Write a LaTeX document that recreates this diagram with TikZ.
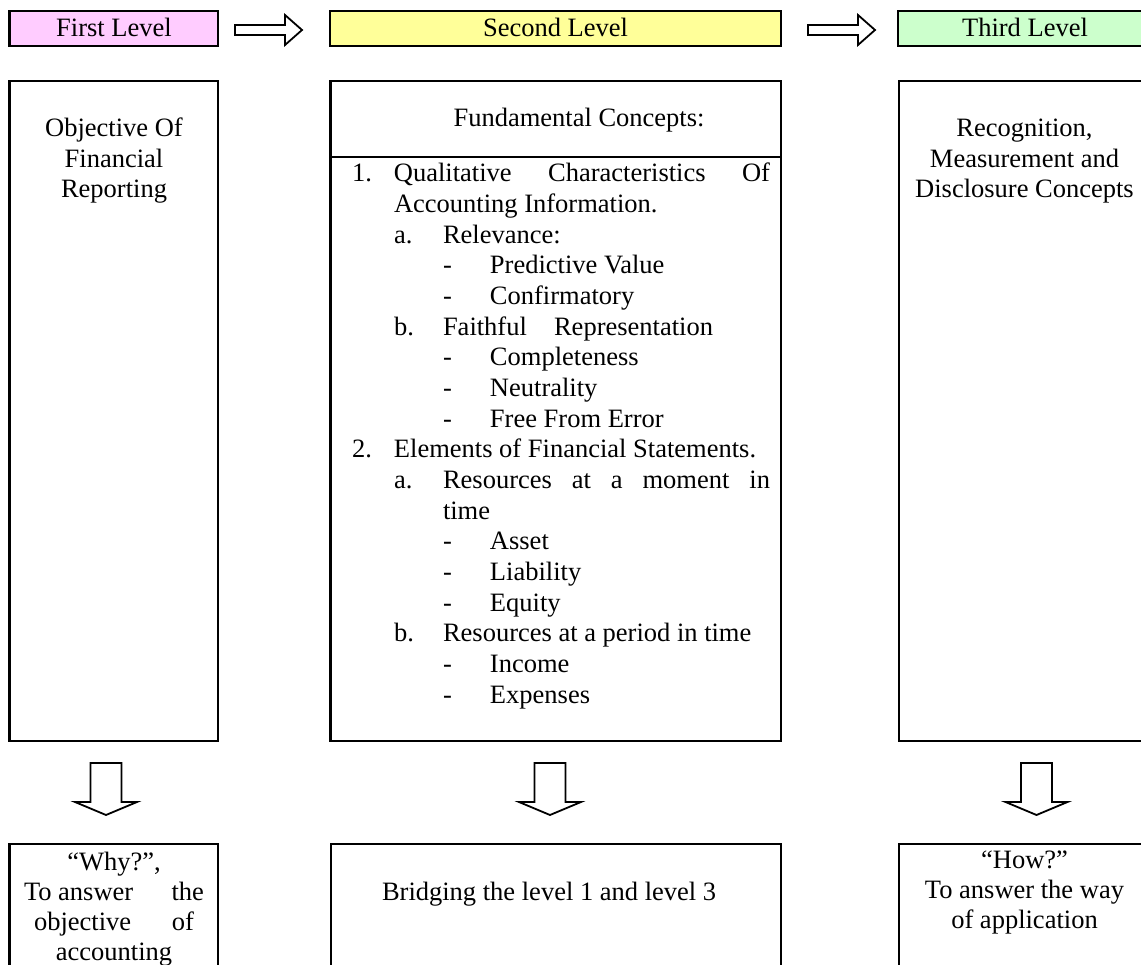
\documentclass[tikz,border=0pt]{standalone}
\usepackage{fontspec}
\setmainfont{Liberation Serif}
\definecolor{pinkfill}{HTML}{FFCCFF}
\definecolor{yellowfill}{HTML}{FFFF99}
\definecolor{greenfill}{HTML}{CCFFCC}
\newcommand\lvlA[2]{\makebox[42pt][l]{#1}#2\par}
\newcommand\lvlB[2]{\hspace*{42pt}\makebox[49pt][l]{#1}#2\par}
\newcommand\lvlC[1]{\hspace*{91pt}\makebox[47pt][l]{-}#1\par}
\tikzset{
  box/.style={draw=black, line width=2.5pt, rectangle, inner sep=0pt, outer sep=0pt, anchor=north west},
  txt/.style={inner sep=0pt, outer sep=0pt, font=\fontsize{26.5}{30.2}\selectfont},
  listtxt/.style={inner sep=0pt, outer sep=0pt, font=\fontsize{26.5}{30.65}\selectfont},
  arrowline/.style={draw=black, line width=1.8pt, fill=white, line join=miter},
  rarrow/.pic={\draw[arrowline] (0,-5) -- (50,-5) -- (50,-15) -- (67,0) -- (50,15) -- (50,5) -- (0,5) -- cycle;},
  darrow/.pic={\draw[arrowline] (-15.5,0) -- (15.5,0) -- (15.5,39) -- (31,39) -- (0,52) -- (-31,39) -- (-15.5,39) -- cycle;}
}
\begin{document}
\begin{tikzpicture}[x=1pt,y=-1pt]
\useasboundingbox (0,0) rectangle (1141,965);
\clip (0,0) rectangle (1141,965);
% level headers
\node[box, fill=pinkfill, minimum width=208.5pt, minimum height=35pt] (l1) at (9.5,11) {};
\node[box, fill=yellowfill, minimum width=451pt, minimum height=35pt] (l2) at (330,11) {};
\node[box, fill=greenfill, minimum width=254pt, minimum height=35pt] (l3) at (898,11) {};
\node[txt, anchor=base] (l1t) at (114,37) {First Level};
\node[txt, anchor=base] (l2t) at (555.5,37) {Second Level};
\node[txt, anchor=base] (l3t) at (1025,37) {Third Level};
\pic at (235,30) {rarrow};
\pic at (808,30) {rarrow};
% main boxes
\node[box, minimum width=208.5pt, minimum height=660pt] (m1) at (9.5,81) {};
\node[box, minimum width=450.5pt, minimum height=660pt] (m2) at (330.5,81) {};
\node[box, minimum width=253pt, minimum height=660pt] (m3) at (899,81) {};
\draw[line width=2.5pt] (m2.west |- 0,157) -- (m2.east |- 0,157);
\node[txt, anchor=base] (m1t) at (114,137) {\parbox[t]{190pt}{\centering Objective Of\\Financial\\Reporting}};
\node[txt, anchor=base] (m3t) at (1024.5,137) {\parbox[t]{240pt}{\centering Recognition,\\Measurement and\\Disclosure Concepts}};
\node[txt, anchor=base] (m2h) at (579,127) {Fundamental Concepts:};
\node[listtxt, anchor=base west] (list) at (352,182) {\parbox[t]{425pt}{%
\lvlA{1.}{\makebox[376pt][s]{Qualitative Characteristics Of}}
\lvlA{}{Accounting Information.}
\lvlB{a.}{Relevance:}
\lvlC{Predictive Value}
\lvlC{Confirmatory}
\lvlB{b.}{\makebox[270pt][s]{Faithful Representation}}
\lvlC{Completeness}
\lvlC{Neutrality}
\lvlC{Free From Error}
\lvlA{2.}{Elements of Financial Statements.}
\lvlB{a.}{\makebox[327pt][s]{Resources at a moment in}}
\hspace*{91pt}time\par
\lvlC{Asset}
\lvlC{Liability}
\lvlC{Equity}
\lvlB{b.}{Resources at a period in time}
\lvlC{Income}
\lvlC{Expenses}}};
% down arrows
\pic at (106,763) {darrow};
\pic at (550,763) {darrow};
\pic at (1036.5,763) {darrow};
% bottom boxes
\node[box, minimum width=208.5pt, minimum height=170pt] (b1) at (9.5,844) {};
\node[box, minimum width=450pt, minimum height=170pt] (b2) at (331,844) {};
\node[box, minimum width=253pt, minimum height=170pt] (b3) at (899,844) {};
\node[txt, anchor=base] (b1t) at (114,870) {\parbox[t]{180pt}{\centering “Why?”,\\\makebox[180pt]{To answer\hfill the}\\\makebox[160pt]{objective\hfill of}\\accounting}};
\node[txt, anchor=base west] (b2t) at (382,900) {Bridging the level 1 and level 3};
\node[txt, anchor=base] (b3t) at (1024.5,868) {\parbox[t]{240pt}{\centering “How?”\\To answer the way\\of application}};
\end{tikzpicture}
\end{document}
